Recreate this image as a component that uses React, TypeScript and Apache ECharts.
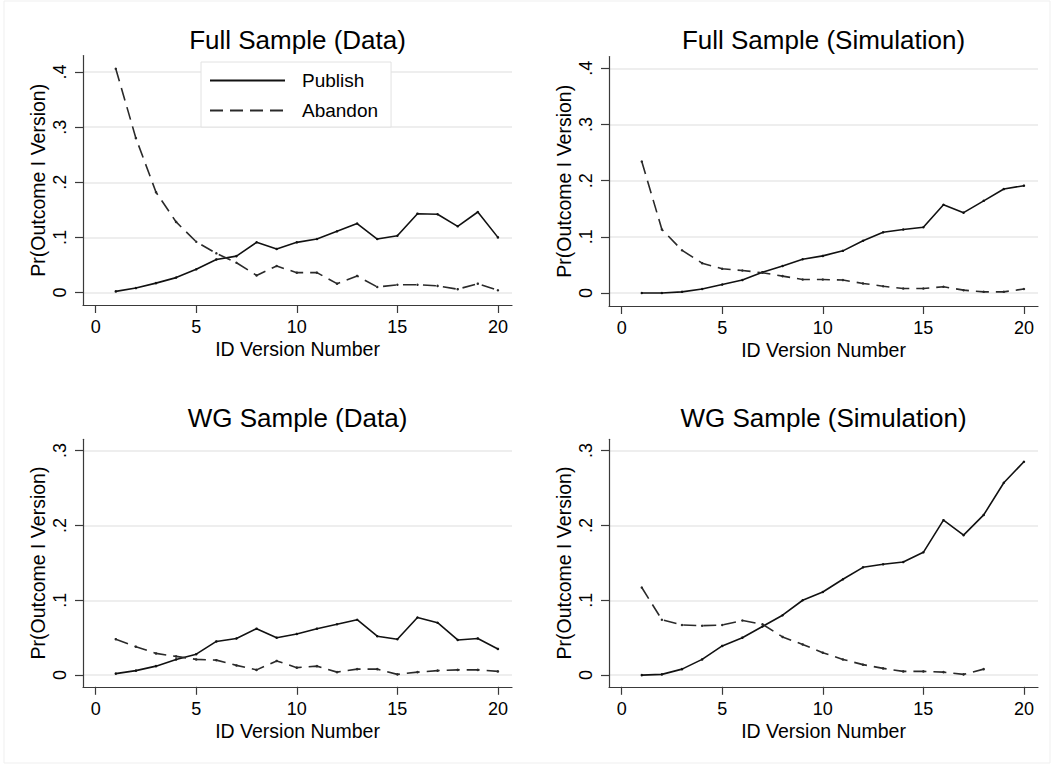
import React, { useEffect, useRef } from "react";
import * as echarts from "echarts";

// ---- data ----
const versions = [1, 2, 3, 4, 5, 6, 7, 8, 9, 10, 11, 12, 13, 14, 15, 16, 17, 18, 19, 20];

const fullDataPublish = [0.002, 0.008, 0.017, 0.027, 0.042, 0.060, 0.066, 0.091, 0.079, 0.091, 0.097, 0.111, 0.125, 0.097, 0.103, 0.143, 0.142, 0.120, 0.146, 0.100];
const fullDataAbandon = [0.406, 0.280, 0.182, 0.128, 0.092, 0.071, 0.054, 0.031, 0.048, 0.036, 0.036, 0.016, 0.030, 0.010, 0.014, 0.014, 0.012, 0.006, 0.016, 0.004];

const fullSimPublish = [0.000, 0.000, 0.002, 0.007, 0.015, 0.023, 0.037, 0.048, 0.060, 0.066, 0.075, 0.093, 0.108, 0.113, 0.117, 0.157, 0.143, 0.164, 0.185, 0.191];
const fullSimAbandon = [0.234, 0.113, 0.076, 0.053, 0.043, 0.040, 0.036, 0.030, 0.024, 0.024, 0.023, 0.017, 0.012, 0.008, 0.008, 0.011, 0.005, 0.002, 0.002, 0.007];

const wgDataPublish = [0.002, 0.006, 0.012, 0.021, 0.028, 0.045, 0.049, 0.062, 0.050, 0.055, 0.062, 0.068, 0.074, 0.052, 0.048, 0.077, 0.070, 0.047, 0.049, 0.035];
const wgDataAbandon = [0.048, 0.038, 0.029, 0.025, 0.021, 0.020, 0.013, 0.007, 0.019, 0.010, 0.012, 0.004, 0.008, 0.008, 0.001, 0.004, 0.006, 0.007, 0.007, 0.005];

const wgSimPublish = [0.000, 0.001, 0.008, 0.021, 0.039, 0.050, 0.065, 0.080, 0.100, 0.111, 0.128, 0.144, 0.148, 0.151, 0.164, 0.207, 0.187, 0.214, 0.257, 0.285];
const wgSimAbandon = [0.117, 0.074, 0.067, 0.066, 0.067, 0.073, 0.068, 0.051, 0.041, 0.030, 0.021, 0.014, 0.009, 0.005, 0.005, 0.004, 0.001, 0.008];

const panelTitles = ["Full Sample (Data)", "Full Sample (Simulation)", "WG Sample (Data)", "WG Sample (Simulation)"];
const xTicks = [0, 5, 10, 15, 20];
const yTicksFull = [0, 0.1, 0.2, 0.3, 0.4];
const yTicksWG = [0, 0.1, 0.2, 0.3];
const xAxisTitle = "ID Version Number";
const yAxisTitle = "Pr(Outcome I Version)";
const seriesNames = ["Publish", "Abandon"];

const FONT = "'Liberation Sans', Arial, Helvetica, sans-serif";

function pairs(vals: number[]) {
  return vals.map((v, i) => [versions[i], v]);
}

export default function App() {
  const ref = useRef<HTMLDivElement>(null);

  useEffect(() => {
    if (!ref.current) return;
    const chart = echarts.init(ref.current, undefined, { renderer: "svg" });

    const grids = [
      { left: 83, top: 55.5, width: 429, height: 249.5, ymin: -0.0227, ymax: 0.43, yt: yTicksFull },
      { left: 609, top: 56.5, width: 429, height: 249.5, ymin: -0.0232, ymax: 0.421, yt: yTicksFull },
      { left: 83, top: 439.3, width: 429, height: 247.5, ymin: -0.0156, ymax: 0.315, yt: yTicksWG },
      { left: 609, top: 439.3, width: 429, height: 247.5, ymin: -0.0156, ymax: 0.315, yt: yTicksWG },
    ];
    const titleY = [40, 40, 418, 418];

    const axisLineStyle = { color: "#3a3a3a", width: 1.2 };
    const yFmt = (v: number) => (Math.abs(v) < 1e-9 ? "0" : "." + Math.round(v * 10));

    const data = [
      [fullDataPublish, fullDataAbandon],
      [fullSimPublish, fullSimAbandon],
      [wgDataPublish, wgDataAbandon],
      [wgSimPublish, wgSimAbandon],
    ];

    const series: any[] = [];
    data.forEach((pair, gi) => {
      pair.forEach((vals, si) => {
        series.push({
          type: "line",
          name: seriesNames[si],
          xAxisIndex: gi,
          yAxisIndex: gi,
          data: pairs(vals),
          symbol: "circle",
          symbolSize: 2.5,
          showSymbol: true,
          itemStyle: { color: si === 0 ? "#111" : "#2a2a2a" },
          lineStyle: {
            color: si === 0 ? "#111" : "#2a2a2a",
            width: 1.6,
            type: si === 0 ? "solid" : [13, 7],
          },
          emphasis: { disabled: true },
          silent: true,
        });
      });
    });

    chart.setOption({
      animation: false,
      backgroundColor: "#fff",
      textStyle: { fontFamily: FONT },
      title: panelTitles.map((t, i) => ({
        text: t,
        left: grids[i].left + grids[i].width / 2,
        top: titleY[i],
        textAlign: "center",
        textVerticalAlign: "middle",
        padding: 0,
        textStyle: { fontFamily: FONT, fontSize: 26, fontWeight: "normal", color: "#000" },
      })),
      legend: {
        left: 201,
        top: 62,
        orient: "vertical",
        data: seriesNames,
        itemWidth: 75,
        itemHeight: 14,
        itemGap: 11,
        padding: [9, 13, 7, 8],
        borderColor: "#e2e2e2",
        borderWidth: 1,
        backgroundColor: "#fff",
        itemStyle: { opacity: 0 },
        textStyle: { fontFamily: FONT, fontSize: 19, color: "#000", padding: [0, 0, 0, 12] },
        selectedMode: false,
      },
      grid: grids.map((g) => ({ left: g.left, top: g.top, width: g.width, height: g.height })),
      xAxis: grids.map((g, i) => ({
        type: "value",
        gridIndex: i,
        min: -0.63,
        max: 20.7,
        name: xAxisTitle,
        nameLocation: "middle",
        nameGap: 34,
        nameTextStyle: { fontFamily: FONT, fontSize: 19.5, color: "#000" },
        axisLine: { show: true, onZero: false, lineStyle: axisLineStyle },
        axisTick: { show: true, length: 8, customValues: xTicks, lineStyle: axisLineStyle },
        axisLabel: {
          customValues: xTicks,
          margin: 13,
          fontSize: 18,
          fontFamily: FONT,
          color: "#000",
        },
        splitLine: { show: false },
      })),
      yAxis: grids.map((g, i) => ({
        type: "value",
        gridIndex: i,
        min: g.ymin,
        max: g.ymax,
        name: yAxisTitle,
        nameLocation: "middle",
        nameGap: 35,
        nameTextStyle: { fontFamily: FONT, fontSize: 19.5, color: "#000" },
        axisLine: { show: true, onZero: false, lineStyle: axisLineStyle },
        axisTick: { show: true, length: 8, customValues: g.yt, lineStyle: axisLineStyle },
        axisLabel: {
          customValues: g.yt,
          rotate: 90,
          margin: 14,
          fontSize: 18,
          fontFamily: FONT,
          color: "#000",
          formatter: yFmt,
        },
        splitLine: { show: true, lineStyle: { color: "#e8e8e8", width: 1.5 } },
      })),
      graphic: [
        {
          type: "rect",
          shape: { x: 4, y: 1, width: 1046, height: 762 },
          style: { fill: "none", stroke: "#efefef", lineWidth: 1 },
          silent: true,
          z: -10,
        },
      ],
      series,
    });

    return () => chart.dispose();
  }, []);

  return (
    <div
      ref={ref}
      style={{ position: "absolute", left: 0, top: 0, width: 1053, height: 766 }}
    />
  );
}
